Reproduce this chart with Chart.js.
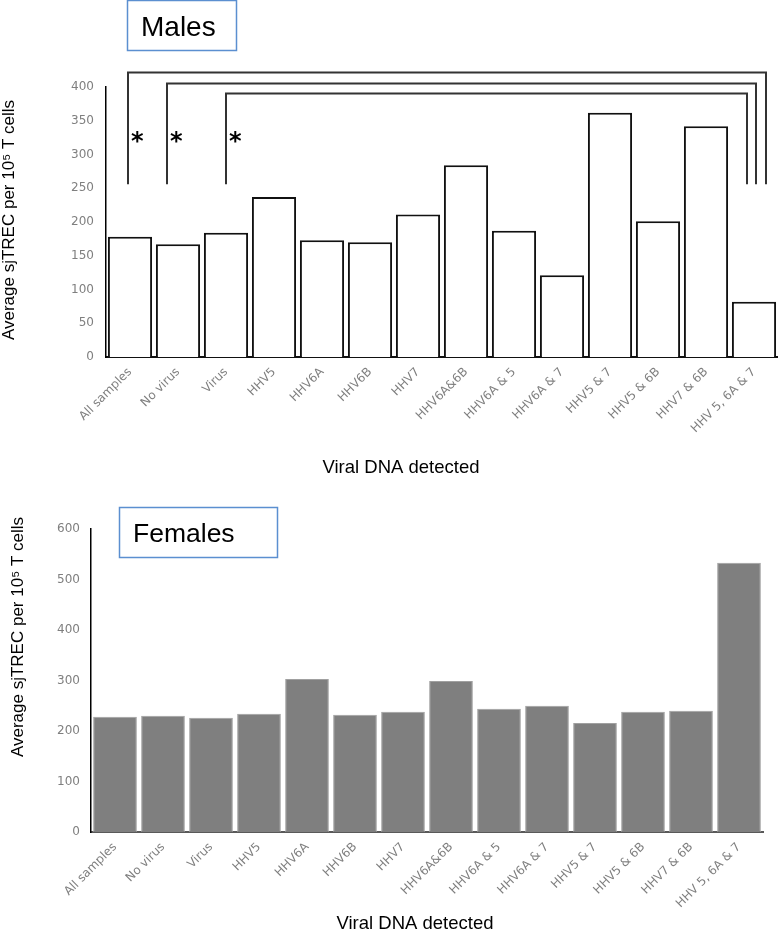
<!DOCTYPE html>
<html>
<head>
<meta charset="utf-8">
<script src="https://cdn.jsdelivr.net/npm/chart.js@4.4.1/dist/chart.umd.min.js"></script>
<style>
  html, body { margin: 0; padding: 0; background: #fff; }
  .wrap { position: absolute; left: 0; width: 778px; }
  #top { top: 0; height: 490px; }
  #bottom { top: 490px; height: 443px; }
</style>
</head>
<body>
<div class="wrap" id="top"><canvas id="malesChart"></canvas></div>
<div class="wrap" id="bottom"><canvas id="femalesChart"></canvas></div>
<script>
// --- data ---
const categories = ['All samples', 'No virus', 'Virus', 'HHV5', 'HHV6A', 'HHV6B', 'HHV7',
  'HHV6A&6B', 'HHV6A & 5', 'HHV6A & 7', 'HHV5 & 7', 'HHV5 & 6B', 'HHV7 & 6B', 'HHV 5, 6A & 7'];
const malesValues = [178, 167, 184, 237, 173, 170, 211, 284, 187, 121, 362, 201, 342, 82];
const femalesValues = [228, 230, 226, 234, 303, 232, 238, 299, 244, 250, 216, 238, 240, 533];
const malesTicks = [0, 50, 100, 150, 200, 250, 300, 350, 400];
const femalesTicks = [0, 100, 200, 300, 400, 500, 600];

// significance brackets (males): from category -> last category, bar level in data units
const bracketFrom = [0, 1, 2];
const bracketTo = [13, 13, 13];
const bracketLevel = [422, 406, 391];
const bracketBase = 256;
const starLevel = 329;

const yTitle = 'Average sjTREC per 10\u2075 T cells';
const xTitle = 'Viral DNA detected';

// draws the label box, axis titles and (optionally) brackets
const extrasPlugin = {
  id: 'extras',
  afterDraw(chart, args, opts) {
    const ctx = chart.ctx;
    ctx.save();

    // brackets with asterisks
    if (opts.brackets) {
      const x = chart.scales.x, y = chart.scales.y;
      ctx.strokeStyle = '#333';
      ctx.lineWidth = 2;
      opts.brackets.forEach(b => {
        const x1 = x.getPixelForValue(b.from) + b.dx1;
        const x2 = x.getPixelForValue(b.to) + b.dx2;
        const yt = Math.round(y.getPixelForValue(b.level)) + 0.5;
        const yb = y.getPixelForValue(bracketBase);
        ctx.beginPath();
        ctx.moveTo(x1, yb);
        ctx.lineTo(x1, yt);
        ctx.lineTo(x2, yt);
        ctx.lineTo(x2, yb);
        ctx.stroke();
        ctx.fillStyle = '#000';
        ctx.font = 'bold 24px "DejaVu Sans"';
        ctx.textAlign = 'left';
        ctx.textBaseline = 'alphabetic';
        ctx.fillText('*', x1 + 3, y.getPixelForValue(starLevel) + 14);
      });
    }

    // label box
    const bx = opts.box;
    ctx.strokeStyle = '#5B8FD0';
    ctx.lineWidth = 1.5;
    ctx.strokeRect(bx.x, bx.y, bx.w, bx.h);
    ctx.fillStyle = '#000';
    ctx.font = bx.font;
    ctx.textAlign = 'left';
    ctx.textBaseline = 'alphabetic';
    ctx.fillText(bx.text, bx.tx, bx.ty);

    // axis titles
    ctx.font = '17px "Liberation Sans"';
    ctx.textAlign = 'center';
    ctx.textBaseline = 'middle';
    ctx.save();
    ctx.translate(opts.yTitle.x, opts.yTitle.y);
    ctx.rotate(-Math.PI / 2);
    ctx.fillText(yTitle, 0, 0);
    ctx.restore();

    ctx.font = '18.5px "Liberation Sans"';
    ctx.fillText(xTitle, opts.xTitle.x, opts.xTitle.y);
    ctx.restore();
  }
};

function makeOptions(cfg) {
  return {
    responsive: true,
    maintainAspectRatio: false,
    animation: false,
    layout: { padding: { top: cfg.padTop, right: cfg.padRight, left: 0, bottom: 0 } },
    plugins: {
      legend: { display: false },
      tooltip: { enabled: false },
      extras: cfg.extras
    },
    scales: {
      x: {
        grid: { display: false, drawTicks: false },
        border: { color: cfg.xAxisColor, width: 2 },
        ticks: {
          autoSkip: false,
          minRotation: 45,
          maxRotation: 45,
          padding: 8,
          color: '#7f7f7f',
          font: { family: 'DejaVu Sans', size: 12 }
        },
        afterFit: function(scale) { scale.height = cfg.xHeight; }
      },
      y: {
        min: 0,
        max: cfg.ticks[cfg.ticks.length - 1],
        grid: { display: false, drawTicks: false },
        border: { color: '#000', width: 1.5 },
        afterBuildTicks: function(scale) { scale.ticks = cfg.ticks.map(v => ({ value: v })); },
        ticks: {
          padding: cfg.yPad,
          color: '#7f7f7f',
          font: { family: 'DejaVu Sans', size: 12 }
        },
        afterFit: function(scale) { scale.width = cfg.yWidth; }
      }
    }
  };
}

// --- males (top) ---
new Chart(document.getElementById('malesChart'), {
  type: 'bar',
  data: {
    labels: categories,
    datasets: [{
      data: malesValues,
      backgroundColor: '#ffffff',
      borderColor: '#111',
      borderWidth: 2,
      barPercentage: 0.92,
      categoryPercentage: 1
    }]
  },
  options: makeOptions({
    padTop: 87, padRight: 0, xHeight: 133, yWidth: 106, yPad: 12,
    xAxisColor: '#111', ticks: malesTicks,
    extras: {
      brackets: bracketFrom.map((f, i) => ({
        from: f, to: bracketTo[i], level: bracketLevel[i],
        dx1: [-2, -11, 0][i], dx2: [12, 2, -7][i]
      })),
      box: { x: 127.5, y: 0.5, w: 109, h: 50, text: 'Males', tx: 141, ty: 36,
             font: '28px "Liberation Sans"' },
      yTitle: { x: 9, y: 220 },
      xTitle: { x: 401, y: 468 }
    }
  }),
  plugins: [extrasPlugin]
});

// --- females (bottom) ---
new Chart(document.getElementById('femalesChart'), {
  type: 'bar',
  data: {
    labels: categories,
    datasets: [{
      data: femalesValues,
      backgroundColor: '#7f7f7f',
      borderColor: '#a0a0a0',
      borderWidth: 1,
      barPercentage: 0.91,
      categoryPercentage: 1
    }]
  },
  options: makeOptions({
    padTop: 39, padRight: 15, xHeight: 101, yWidth: 91, yPad: 11,
    xAxisColor: '#595959', ticks: femalesTicks,
    extras: {
      box: { x: 119.5, y: 17.5, w: 158, h: 50, text: 'Females', tx: 133, ty: 52,
             font: '26.5px "Liberation Sans"' },
      yTitle: { x: 18, y: 147 },
      xTitle: { x: 415, y: 434 }
    }
  }),
  plugins: [extrasPlugin]
});
</script>
</body>
</html>
